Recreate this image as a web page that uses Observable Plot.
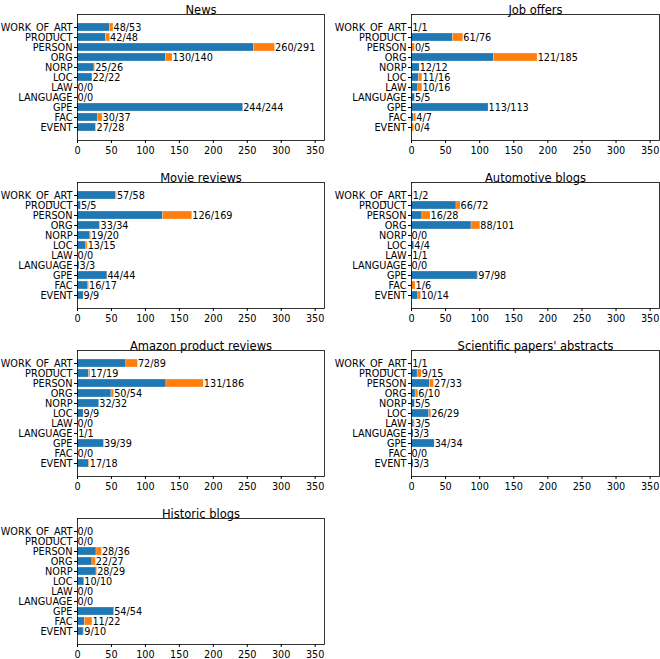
<!DOCTYPE html>
<html>
<head>
<meta charset="utf-8">
<script src="https://cdn.jsdelivr.net/npm/d3@7"></script>
<script src="https://cdn.jsdelivr.net/npm/@observablehq/plot@0.6"></script>
<style>
  body { margin: 0; background: white; }
  #vis { position: relative; width: 660px; height: 659px; }
  #vis svg { position: absolute; }
</style>
</head>
<body>
<div id="vis"></div>
<script>
const categories = ["WORK_OF_ART", "PRODUCT", "PERSON", "ORG", "NORP", "LOC", "LAW", "LANGUAGE", "GPE", "FAC", "EVENT"]
const titles = ["News", "Job offers", "Movie reviews", "Automotive blogs", "Amazon product reviews", "Scientific papers' abstracts", "Historic blogs"]

const newsCorrect = [48, 42, 260, 130, 25, 22, 0, 0, 244, 30, 27]
const newsTotal = [53, 48, 291, 140, 26, 22, 0, 0, 244, 37, 28]
const jobCorrect = [1, 61, 0, 121, 12, 11, 10, 5, 113, 4, 0]
const jobTotal = [1, 76, 5, 185, 12, 16, 16, 5, 113, 7, 4]
const movieCorrect = [57, 5, 126, 33, 19, 13, 0, 3, 44, 16, 9]
const movieTotal = [58, 5, 169, 34, 20, 15, 0, 3, 44, 17, 9]
const autoCorrect = [1, 66, 16, 88, 0, 4, 1, 0, 97, 1, 10]
const autoTotal = [2, 72, 28, 101, 0, 4, 1, 0, 98, 6, 14]
const amazonCorrect = [72, 17, 131, 50, 32, 9, 0, 1, 39, 0, 17]
const amazonTotal = [89, 19, 186, 54, 32, 9, 0, 1, 39, 0, 18]
const sciCorrect = [1, 9, 27, 6, 5, 26, 3, 3, 34, 0, 3]
const sciTotal = [1, 15, 33, 10, 5, 29, 5, 3, 34, 0, 3]
const histCorrect = [0, 0, 28, 22, 28, 10, 0, 0, 54, 11, 9]
const histTotal = [0, 0, 36, 27, 29, 10, 0, 0, 54, 22, 10]

const xTicks = [0, 50, 100, 150, 200, 250, 300, 350]

const series = [
  [newsCorrect, newsTotal],
  [jobCorrect, jobTotal],
  [movieCorrect, movieTotal],
  [autoCorrect, autoTotal],
  [amazonCorrect, amazonTotal],
  [sciCorrect, sciTotal],
  [histCorrect, histTotal],
]

// top of each row's frame, in page pixels
const frameTops = [14, 182, 350, 518]

function panel(title, correct, total, col, row) {
  const rows = categories.map((c, i) => ({cat: c, correct: correct[i], total: total[i]}))
  const chart = Plot.plot({
    width: 330,
    height: 166,
    marginLeft: col ? 81 : 77,
    marginRight: col ? 1 : 6,
    marginTop: 14,
    marginBottom: 26,
    x: {domain: [0, 363.75], label: null},
    y: {domain: categories, paddingInner: 0.2, paddingOuter: 0.54, label: null},
    marks: [
      Plot.barX(rows, {y: "cat", x1: 0, x2: "correct", fill: "#1f77b4", stroke: "white", strokeOpacity: 0.5, strokeWidth: 0.5}),
      Plot.barX(rows, {y: "cat", x1: "correct", x2: "total", fill: "#ff7f0e", stroke: "white", strokeOpacity: 0.5, strokeWidth: 0.5}),
      Plot.text(rows, {
        y: "cat",
        x: "total",
        text: d => `${d.correct}/${d.total}`,
        textAnchor: "start",
        fontSize: 9.7,
      }),
      Plot.axisX({ticks: xTicks, tickSize: 3, tickPadding: 4, label: null}),
      Plot.axisY({tickSize: 3, tickPadding: 2, label: null}),
      Plot.frame({stroke: "black", strokeWidth: 0.8}),
      Plot.text([title], {frameAnchor: "top", dy: -9, fontSize: 11.5}),
    ],
    style: {
      fontFamily: "DejaVu Sans",
      fontSize: "9.7px",
      color: "black",
      background: "none",
      overflow: "visible",
    },
  })
  chart.style.left = (col ? 330 : 0) + "px"
  chart.style.top = (frameTops[row] - 14) + "px"
  d3.select("#vis").append(() => chart)
}

series.forEach(([c, t], i) => panel(titles[i], c, t, i % 2, Math.floor(i / 2)))
</script>
</body>
</html>
